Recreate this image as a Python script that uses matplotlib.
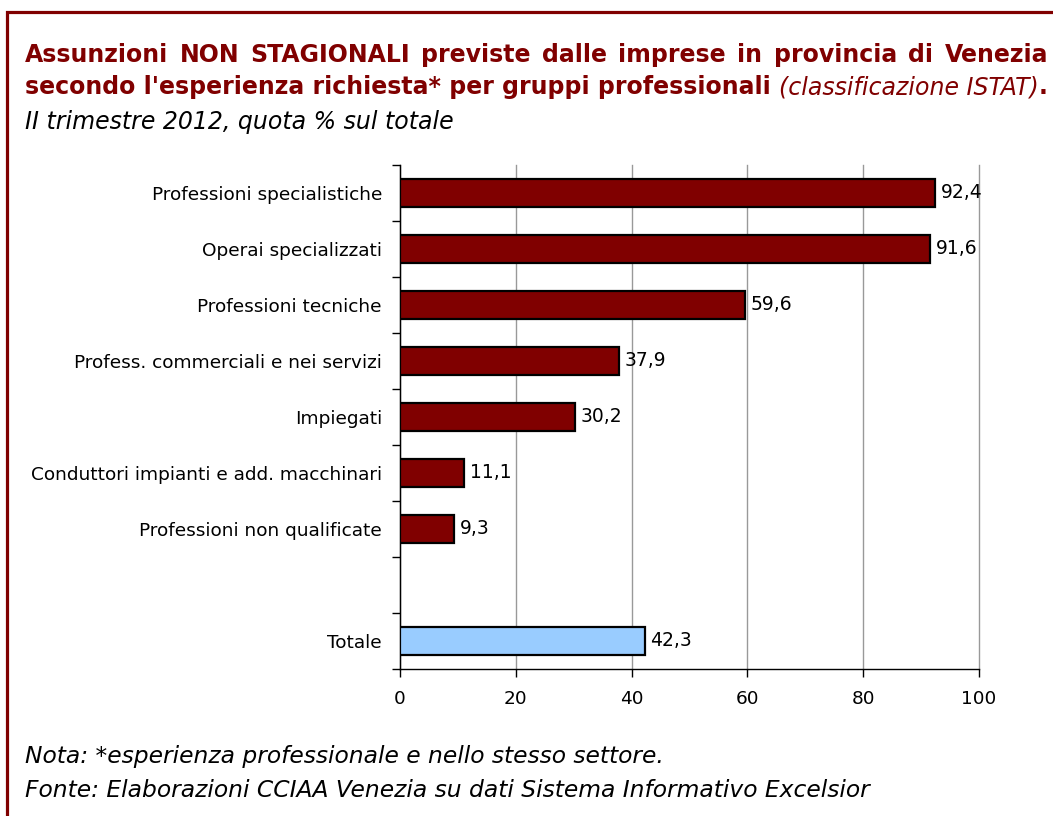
import matplotlib
matplotlib.use('Agg')
import matplotlib.pyplot as plt
from matplotlib.patches import Rectangle
import numpy as np

# data
categorie = ['Professioni specialistiche', 'Operai specializzati', 'Professioni tecniche',
             'Profess. commerciali e nei servizi', 'Impiegati',
             'Conduttori impianti e add. macchinari', 'Professioni non qualificate']
valori = [92.4, 91.6, 59.6, 37.9, 30.2, 11.1, 9.3]
totale_label = 'Totale'
totale = 42.3
xticks = [0, 20, 40, 60, 80, 100]

RED = '#800000'
W, H = 1053, 816
plt.rcParams['font.family'] = ['DejaVu Sans']

fig = plt.figure(figsize=(W / 100, H / 100), dpi=100)
rend = fig.canvas.get_renderer()

def px(x, y):
    # pixel coords from top-left -> figure fraction
    return x / W, 1 - y / H

def width_of(t):
    return t.get_window_extent(renderer=rend).width

# border (open to the right and bottom)
fig.patches.append(Rectangle(px(7, 900), 1.2, (900 - 12) / H, transform=fig.transFigure,
                             fill=False, edgecolor=RED, linewidth=2.3, clip_on=False))

# title line 1, justified
words1 = 'Assunzioni NON STAGIONALI previste dalle imprese in provincia di Venezia'.split()
tsize = 17
tts = [fig.text(0, 0, w, fontsize=tsize, fontweight='bold', color=RED, va='baseline') for w in words1]
ws = [width_of(t) for t in tts]
x0, x1 = 25, 1048
gap = (x1 - x0 - sum(ws)) / (len(ws) - 1)
x = x0
for t, w in zip(tts, ws):
    t.set_position(px(x, 62))
    x += w + gap

# title line 2, mixed styles
parts = [("secondo l'esperienza richiesta* per gruppi professionali ", dict(fontweight='bold')),
         ('(classificazione ISTAT)', dict(style='italic')),
         ('.', dict(fontweight='bold'))]
x = 25
for s, kw in parts:
    t = fig.text(*px(x, 94), s, fontsize=tsize, color=RED, va='baseline', **kw)
    x += width_of(t)

fig.text(*px(25, 129), 'II trimestre 2012, quota % sul totale', fontsize=17,
         style='italic', color='black', va='baseline')

# axes
ax = fig.add_axes([400 / W, 1 - 669 / H, (979 - 400) / W, (669 - 165) / H])
pos = np.arange(len(categorie))
pos_tot = len(categorie) + 1
ax.barh(pos, valori, height=0.5, color=RED, edgecolor='black', linewidth=1.6, zorder=3)
ax.barh([pos_tot], [totale], height=0.5, color='#99CCFF', edgecolor='black', linewidth=1.6, zorder=3)

for p, v in list(zip(pos, valori)) + [(pos_tot, totale)]:
    ax.annotate(f'{v:.1f}'.replace('.', ','), (v, p), xytext=(4, 0), textcoords='offset points',
                va='center', ha='left', fontsize=13.5)

ax.set_xlim(0, 100)
ax.set_ylim(pos_tot + 0.5, -0.5)
ax.set_xticks(xticks)
ax.set_xticklabels([str(v) for v in xticks], fontsize=13.3)
ax.set_yticks(list(pos) + [pos_tot])
ax.set_yticklabels(categorie + [totale_label], fontsize=13.3)
ax.set_yticks(np.arange(-0.5, pos_tot + 1), minor=True)
ax.tick_params(axis='y', which='major', length=0, pad=13)
ax.tick_params(axis='y', which='minor', length=6, width=1, direction='out')
ax.tick_params(axis='x', length=6, width=1, pad=9)
ax.grid(axis='x', color='#999999', linewidth=1, zorder=0)
for gl in ax.get_xgridlines():
    gl.set_clip_on(False)
ax.spines['top'].set_visible(False)
ax.spines['right'].set_visible(False)
for s in ('left', 'bottom'):
    ax.spines[s].set_linewidth(1)

fig.text(*px(25, 763), 'Nota: *esperienza professionale e nello stesso settore.', fontsize=16.8,
         style='italic', va='baseline')
fig.text(*px(25, 797), 'Fonte: Elaborazioni CCIAA Venezia su dati Sistema Informativo Excelsior',
         fontsize=16.8, style='italic', va='baseline')

fig.savefig('out.png', dpi=100, facecolor='white')
